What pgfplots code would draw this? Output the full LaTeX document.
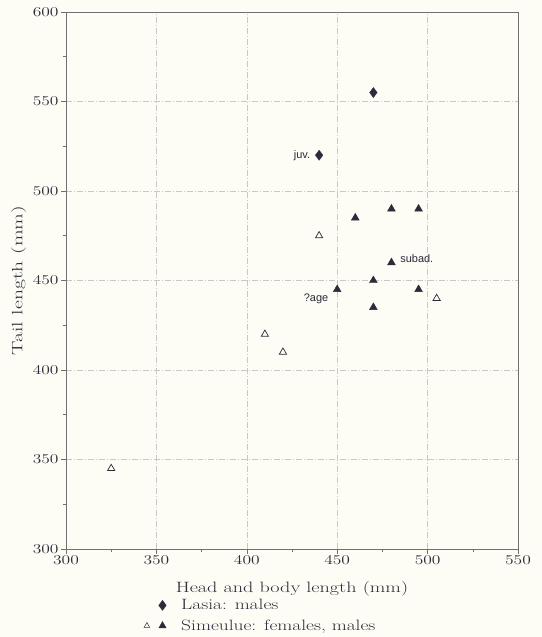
\documentclass[border=0pt]{standalone}
\usepackage{pgfplots}
\pgfplotsset{compat=1.18}
\usepackage{graphicx}
\usepackage{fontspec}
\newfontfamily\labfont{Liberation Sans}
\newcommand{\widen}[1]{\scalebox{1.3}[1]{#1}}
\definecolor{bgc}{HTML}{FDFDF6}
\definecolor{ink}{HTML}{2B2B3A}
\definecolor{axc}{HTML}{707070}
\definecolor{gridc}{HTML}{C8C8C8}
\begin{document}
\begin{tikzpicture}
\fill[bgc] (0,0) rectangle (542bp,637bp);
\useasboundingbox (0,0) rectangle (542bp,637bp);
\begin{axis}[
  at={(66bp,88bp)}, anchor=south west,
  width=452bp, height=537bp, scale only axis,
  xmin=300, xmax=550, ymin=300, ymax=600,
  xtick={300,350,...,550}, ytick={300,350,...,600},
  minor xtick={325,375,...,525}, minor ytick={325,375,...,575},
  tick align=outside, tick pos=left,
  major tick length=5bp, minor tick length=3bp,
  every tick/.style={axc, line width=0.5pt},
  axis line style={axc, line width=0.7pt},
  grid=major,
  major grid style={gridc, line width=0.5pt, dash pattern=on 6pt off 2pt on 1pt off 2pt},
  /pgf/number format/assume math mode=true,
  xticklabel={\widen{\pgfmathprintnumber{\tick}}},
  yticklabel={\widen{\pgfmathprintnumber{\tick}}},
  tick label style={font=\fontsize{13.5}{15}\selectfont, text=ink},
  xticklabel style={yshift=2bp},
  yticklabel style={xshift=1bp},
  label style={font=\fontsize{15}{17}\selectfont, text=ink},
  xlabel={\scalebox{1.35}[1]{Head and body length (mm)}},
  ylabel={\scalebox{1.45}[1]{Tail length (mm)}},
  xlabel style={at={(axis description cs:0.5,-0.074)}, anchor=center},
  ylabel style={at={(axis description cs:-0.105,0.5)}, anchor=center},
  legend style={at={(axis description cs:0.17,-0.088)}, anchor=north west, draw=none, fill=none,
    font=\fontsize{15}{16}\selectfont, text=ink, row sep=4.5bp, column sep=13bp,
    legend cell align=left, inner sep=1bp},
  legend image code/.code={\draw[#1] plot coordinates {(0.55cm,0cm)};},
]
\addplot[only marks, mark=diamond*, mark size=5bp, color=ink] coordinates {
  (470,555) (440,520)
};
\addlegendentry{\widen{Lasia: males}}
\addplot[only marks, mark=triangle, mark size=4.2bp, color=ink, line width=0.7pt, forget plot] coordinates {
  (325,345) (410,420) (420,410) (440,475) (505,440)
};
\addplot[only marks, mark=triangle*, mark size=4.5bp, color=ink,
  legend image code/.code={
    \draw[ink, line width=0.5pt, mark=triangle, mark size=3.3bp] plot coordinates {(0cm,0cm)};
    \draw[ink, mark=triangle*, mark size=4.2bp] plot coordinates {(0.55cm,0cm)};
  }] coordinates {
  (460,485) (480,490) (495,490) (480,460) (470,450) (450,445) (495,445) (470,435)
};
\addlegendentry{\widen{Simeulue: females, males}}
\node[anchor=east, font=\labfont\fontsize{11}{12}\selectfont, text=ink] at (axis cs:437,520) {juv.};
\node[anchor=west, font=\labfont\fontsize{11}{12}\selectfont, text=ink] at (axis cs:483,462) {subad.};
\node[anchor=east, font=\labfont\fontsize{11}{12}\selectfont, text=ink] at (axis cs:447,440) {?age};
\end{axis}
\end{tikzpicture}
\end{document}
